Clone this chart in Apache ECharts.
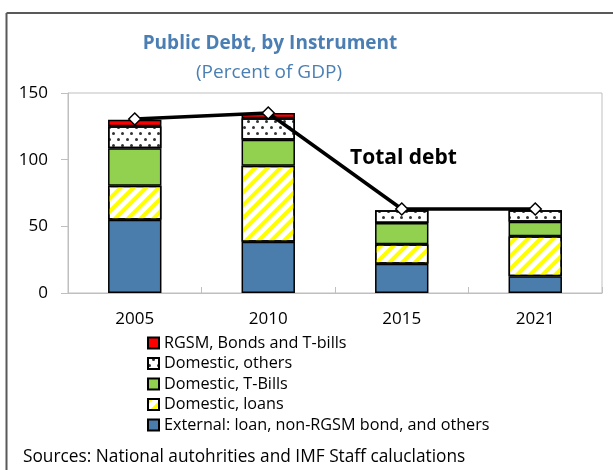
<!DOCTYPE html>
<html><head><meta charset="utf-8">
<script src="https://cdn.jsdelivr.net/npm/echarts@6/dist/echarts.min.js"></script>
<style>html,body{margin:0;padding:0;background:#fff}#c{width:613px;height:470px}</style>
</head><body><div id="c"></div>
<script>
// Data (percent of GDP)
const categories = ['2005', '2010', '2015', '2021'];
const externalDebt = [55, 38.5, 22, 12.5];
const domesticLoans = [25.5, 57, 14.5, 30];
const domesticTBills = [28, 19.5, 16, 11];
const domesticOthers = [16.5, 16, 9.5, 8.5];
const rgsmBonds = [5, 4, null, null];
const totalDebt = [130.5, 135, 63, 63];
const yAxisTicks = [0, 50, 100, 150];
const seriesNames = [
  'External: loan, non-RGSM bond, and others',
  'Domestic, loans',
  'Domestic, T-Bills',
  'Domestic, others',
  'RGSM, Bonds and T-bills'
];

const FONT = '"Open Sans", "Noto Sans", sans-serif';
const chart = echarts.init(document.getElementById('c'), null, {renderer: 'canvas'});
const border = {borderColor: '#000', borderWidth: 1.5};

function bar(name, data, itemStyle) {
  return {
    name, type: 'bar', stack: 'debt', data, barWidth: '40%',
    itemStyle: Object.assign({}, border, itemStyle),
    emphasis: {disabled: true}
  };
}

chart.setOption({
  animation: false,
  textStyle: {fontFamily: FONT},
  grid: {left: 68, right: 11, top: 93, bottom: 177, show: true, borderColor: '#BFBFBF', borderWidth: 1, containLabel: false},
  xAxis: {
    type: 'category', data: categories,
    axisLine: {lineStyle: {color: '#BFBFBF'}},
    axisTick: {show: true, inside: true, length: 6, lineStyle: {color: '#BFBFBF'}},
    axisLabel: {color: '#000', fontSize: 17, margin: 18, fontFamily: FONT}
  },
  yAxis: {
    type: 'value', min: yAxisTicks[0], max: yAxisTicks[yAxisTicks.length - 1], interval: 50,
    axisLine: {show: true, lineStyle: {color: '#BFBFBF'}},
    axisTick: {show: true, length: 7, lineStyle: {color: '#BFBFBF'}},
    splitLine: {show: false},
    axisLabel: {color: '#000', fontSize: 17, margin: 20, fontFamily: FONT}
  },
  legend: {
    orient: 'vertical', left: 147, top: 333, padding: 0,
    itemWidth: 11, itemHeight: 11, itemGap: 0.5,
    icon: 'rect',
    data: [seriesNames[4], seriesNames[3], seriesNames[2], seriesNames[1], seriesNames[0]],
    textStyle: {fontSize: 16.2, color: '#000', lineHeight: 20, fontFamily: FONT},
    selectedMode: false
  },
  graphic: [
    {type: 'line', shape: {x1: 6.5, y1: 470, x2: 6.5, y2: 13}, style: {stroke: '#595959', lineWidth: 2}, silent: true},
    {type: 'line', shape: {x1: 6.5, y1: 13, x2: 613, y2: 13}, style: {stroke: '#595959', lineWidth: 2}, silent: true},
    {type: 'text', x: 270, y: 44, style: {text: 'Public Debt, by Instrument', font: 'bold 19px ' + FONT, fill: '#4B7FB3', textAlign: 'center', textVerticalAlign: 'middle'}},
    {type: 'text', x: 269, y: 73, style: {text: '(Percent of GDP)', font: '19px ' + FONT, fill: '#4B7FB3', textAlign: 'center', textVerticalAlign: 'middle'}},
    {type: 'text', x: 350, y: 158, style: {text: 'Total debt', font: 'bold 21px ' + FONT, fill: '#000', textAlign: 'left', textVerticalAlign: 'middle'}},
    {type: 'text', x: 23, y: 457, style: {text: 'Sources: National autohrities and IMF Staff caluclations', font: '17.3px ' + FONT, fill: '#000', textAlign: 'left', textVerticalAlign: 'middle'}}
  ],
  series: [
    bar(seriesNames[0], externalDebt, {color: '#4A7DAB'}),
    bar(seriesNames[1], domesticLoans, {color: '#FFFFFF', decal: {symbol: 'rect', symbolSize: 1, color: '#FFFF00', dashArrayX: [1, 0], dashArrayY: [4, 4.5], rotation: -Math.PI / 4}}),
    bar(seriesNames[2], domesticTBills, {color: '#92D050'}),
    bar(seriesNames[3], domesticOthers, {color: '#FFFFFF', decal: {symbol: 'circle', symbolSize: 1, color: '#333333', dashArrayX: [[2.4, 5.6], [0, 4, 2.4, 1.6]], dashArrayY: [2.4, 2.6], rotation: 0}}),
    bar(seriesNames[4], rgsmBonds, {color: '#FF0000'}),
    {
      name: 'Total debt', type: 'line', data: totalDebt, z: 10,
      symbol: 'diamond', symbolSize: 12,
      lineStyle: {color: '#000', width: 3.5},
      itemStyle: {color: '#FFFFFF', borderColor: '#000', borderWidth: 1.5},
      emphasis: {disabled: true}
    }
  ]
});
</script></body></html>
